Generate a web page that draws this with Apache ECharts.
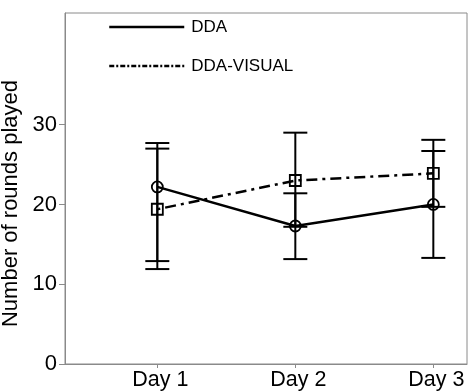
<!DOCTYPE html>
<html><head><meta charset="utf-8">
<script src="https://cdn.jsdelivr.net/npm/echarts@6/dist/echarts.min.js"></script>
<style>html,body{margin:0;padding:0;background:#fff}#c{width:468px;height:392px}</style>
</head><body><div id="c"></div>
<script>
const dayPositions = [1, 2, 3];
const dayLabels = ['Day 1', 'Day 2', 'Day 3'];
const yTickValues = [0, 10, 20, 30];
const seriesNames = ['DDA', 'DDA-VISUAL'];
const ddaMean = [22.2, 17.3, 20.0];
const ddaUpper = [27.7, 21.4, 26.7];
const ddaLower = [12.9, 13.15, 13.3];
const visualMean = [19.4, 23.0, 23.9];
const visualUpper = [27.0, 29.0, 28.1];
const visualLower = [11.9, 17.2, 19.7];

const FONT = '"Liberation Sans", Arial, sans-serif';
const AXIS_GREY = '#8a8a8a';

function pts(means) { return dayPositions.map((d, i) => [d, means[i]]); }
function bars(lo, hi) { return dayPositions.map((d, i) => [d, lo[i], hi[i]]); }

function errRender(params, api) {
  const x = api.value(0), lo = api.value(1), hi = api.value(2);
  const pLo = api.coord([x, lo]), pHi = api.coord([x, hi]);
  const w = 12;
  const style = { stroke: '#000', lineWidth: 2, fill: null };
  return { type: 'group', children: [
    { type: 'line', shape: { x1: pLo[0], y1: pLo[1], x2: pHi[0], y2: pHi[1] }, style: style },
    { type: 'line', shape: { x1: pLo[0] - w, y1: pLo[1], x2: pLo[0] + w, y2: pLo[1] }, style: style },
    { type: 'line', shape: { x1: pHi[0] - w, y1: pHi[1], x2: pHi[0] + w, y2: pHi[1] }, style: style }
  ]};
}

const chart = echarts.init(document.getElementById('c'), null, { renderer: 'canvas' });
chart.setOption({
  animation: false,
  backgroundColor: '#fff',
  textStyle: { fontFamily: FONT },
  grid: { left: 65, right: 1, top: 13, bottom: 28, show: true, borderColor: AXIS_GREY, borderWidth: 1, backgroundColor: 'transparent', containLabel: false, outerBoundsMode: 'none' },
  legend: {
    orient: 'vertical', left: 103, top: 13,
    itemWidth: 75, itemHeight: 20, itemGap: 21,
    itemStyle: { opacity: 0 },
    textStyle: { fontSize: 17, color: '#000', fontFamily: FONT, padding: [0, 0, 0, 2] },
    data: [
      { name: seriesNames[0], lineStyle: { width: 2.5, type: 'solid', color: '#000' } },
      { name: seriesNames[1], lineStyle: { width: 2.5, type: [5, 2, 2, 2], color: '#000' } }
    ]
  },
  xAxis: {
    type: 'value', min: 0.331, max: 3.244,
    splitLine: { show: false },
    axisLine: { lineStyle: { color: AXIS_GREY, width: 1 } },
    axisTick: { show: true, length: 4, customValues: dayPositions, lineStyle: { color: AXIS_GREY } },
    axisLabel: { customValues: dayPositions, formatter: v => dayLabels[Math.round(v) - 1], fontSize: 21.5, color: '#000', margin: 5, fontFamily: FONT, padding: [0, 0, 0, 6] }
  },
  yAxis: {
    type: 'value', min: 0, max: 44,
    name: 'Number of rounds played', nameLocation: 'middle', nameGap: 27,
    nameTextStyle: { fontSize: 22, color: '#000', fontFamily: FONT, padding: [0, 30, 0, 0] },
    splitLine: { show: false },
    axisLine: { show: true, lineStyle: { color: AXIS_GREY, width: 1 } },
    axisTick: { show: true, length: 6, customValues: yTickValues, lineStyle: { color: AXIS_GREY } },
    axisLabel: { customValues: yTickValues, fontSize: 22, color: '#000', margin: 8, fontFamily: FONT }
  },
  series: [
    { type: 'custom', name: 'err-dda', renderItem: errRender, data: bars(ddaLower, ddaUpper), z: 2 },
    { type: 'custom', name: 'err-visual', renderItem: errRender, data: bars(visualLower, visualUpper), z: 2 },
    {
      type: 'line', name: seriesNames[0], data: pts(ddaMean), z: 3,
      symbol: 'circle', symbolSize: 11, showAllSymbol: true,
      lineStyle: { color: '#000', width: 2.5, type: 'solid' },
      itemStyle: { color: 'transparent', borderColor: '#000', borderWidth: 1.8 }
    },
    {
      type: 'line', name: seriesNames[1], data: pts(visualMean), z: 3,
      symbol: 'rect', symbolSize: 11, showAllSymbol: true,
      lineStyle: { color: '#000', width: 2.5, type: [3, 5, 11, 5] },
      itemStyle: { color: 'transparent', borderColor: '#000', borderWidth: 1.8 }
    }
  ]
});
</script>
</body></html>
